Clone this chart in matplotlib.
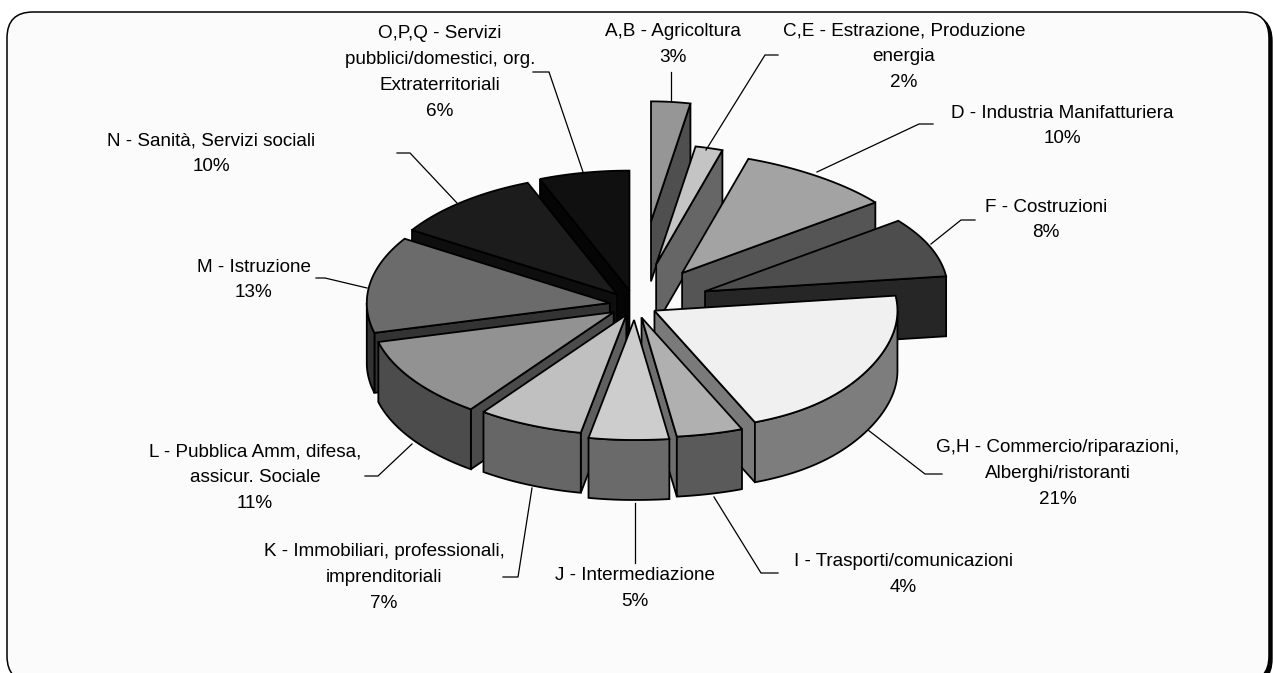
import numpy as np
import matplotlib
matplotlib.use('Agg')
import matplotlib.pyplot as plt
from matplotlib.patches import FancyBboxPatch, Polygon

plt.rcParams['font.family'] = ['Liberation Sans', 'DejaVu Sans']

labels = ['A,B - Agricoltura', 'C,E - Estrazione, Produzione\nenergia',
          'D - Industria Manifatturiera', 'F - Costruzioni',
          'G,H - Commercio/riparazioni,\nAlberghi/ristoranti',
          'I - Trasporti/comunicazioni', 'J - Intermediazione',
          'K - Immobiliari, professionali,\nimprenditoriali',
          'L - Pubblica Amm, difesa,\nassicur. Sociale', 'M - Istruzione',
          'N - Sanità, Servizi sociali',
          'O,P,Q - Servizi\npubblici/domestici, org.\nExtraterritoriali']
values = [3, 2, 10, 8, 21, 4, 5, 7, 11, 13, 10, 6]

# how far each slice is pulled out of the pie
explode = [0.70, 0.35, 0.33, 0.31, 0.093, 0.108, 0.125, 0.09, 0.106, 0.105, 0.115, 0.122]
top_col = ['#969696', '#c4c4c4', '#a3a3a3', '#4d4d4d', '#f0f0f0', '#b0b0b0',
           '#cdcdcd', '#c0c0c0', '#929292', '#6b6b6b', '#1c1c1c', '#101010']
wall_col = ['#4f4f4f', '#666666', '#555555', '#262626', '#7d7d7d', '#5a5a5a',
            '#6a6a6a', '#666666', '#4c4c4c', '#333333', '#0e0e0e', '#050505']
cut_col = ['#4f4f4f', '#666666', '#555555', '#262626', '#7a7a7a', '#6e6e6e',
           '#6a6a6a', '#5f5f5f', '#4b4b4b', '#333333', '#0e0e0e', '#050505']
draw_order = [0, 1, 2, 3, 11, 10, 9, 8, 7, 4, 5, 6]

# label centre and first line height, then the leader line
label_pos = [(673, 32), (904, 31), (1062, 113), (1046, 207), (1058, 448), (903, 562),
             (635, 576), (384, 552), (255, 452), (254, 267), (211, 141), (440, 34)]
leaders = [[(671, 100), (671, 72)],
           [(706, 150), (765, 55), (778, 55)],
           [(817, 172), (919, 124), (933, 124)],
           [(931, 244), (961, 220), (975, 220)],
           [(868, 430), (925, 474), (942, 474)],
           [(714, 497), (761, 573), (778, 573)],
           [(635, 503), (635, 563)],
           [(532, 488), (518, 577), (503, 577)],
           [(412, 444), (378, 476), (365, 476)],
           [(367, 288), (325, 278), (316, 278)],
           [(457, 203), (410, 153), (397, 153)],
           [(583, 172), (549, 72), (533, 72)]]

cx, cy = 635, 305
rx, ry = 243, 120
depth = 60


def point(theta):
    # position on the tilted rim: far right narrows, near right opens up
    c = np.cos(theta)
    right = np.sin(theta) > 0
    wide = rx + (40 * (c < 0) - 35 * (c > 0)) * (c ** 4) * right
    return wide * np.sin(theta), -ry * c


fig = plt.figure(figsize=(12.73, 6.73), dpi=100)
ax = fig.add_axes([0, 0, 1, 1])
ax.set_xlim(0, 1273)
ax.set_ylim(673, 0)
ax.axis('off')

style = 'round,pad=0,rounding_size=26'
ax.add_patch(FancyBboxPatch((10, 15), 1262, 670, boxstyle=style, fc='black', ec='black', lw=1))
ax.add_patch(FancyBboxPatch((7, 12), 1262, 670, boxstyle=style, fc='#fbfbfb', ec='black', lw=1.1))

for pts in leaders:
    xs, ys = zip(*pts)
    ax.plot(xs, ys, color='black', lw=0.9, solid_joinstyle='miter')

edges = np.radians(np.cumsum([0] + values) * 3.6)
for i in draw_order:
    a0, a1 = edges[i], edges[i + 1]
    mid = (a0 + a1) / 2
    tx = cx + explode[i] * rx * np.sin(mid)
    ty = cy - explode[i] * ry * np.cos(mid)
    t = np.linspace(a0, a1, 80)
    px, py = point(t)
    px, py = tx + px, ty + py
    kw = dict(ec='black', lw=1.3, joinstyle='miter')

    # radial cut faces that turn toward the viewer
    if a1 < np.pi:
        ax.add_patch(Polygon([(tx, ty), (px[-1], py[-1]), (px[-1], py[-1] + depth), (tx, ty + depth)],
                             fc=cut_col[i], **kw))
    if a0 > np.pi:
        ax.add_patch(Polygon([(tx, ty), (px[0], py[0]), (px[0], py[0] + depth), (tx, ty + depth)],
                             fc=cut_col[i], **kw))

    # outer wall, only the front half of the rim shows
    lo, hi = max(a0, np.pi / 2), min(a1, 3 * np.pi / 2)
    if lo < hi:
        w = np.linspace(lo, hi, 80)
        wx, wy = point(w)
        wx, wy = tx + wx, ty + wy
        wall = np.r_[np.c_[wx, wy], np.c_[wx, wy + depth][::-1]]
        ax.add_patch(Polygon(wall, fc=wall_col[i], **kw))

    ax.add_patch(Polygon(np.r_[[(tx, ty)], np.c_[px, py]], fc=top_col[i], **kw))

for name, v, (x, y) in zip(labels, values, label_pos):
    lines = name.split('\n') + ['%d%%' % v]
    for k, line in enumerate(lines):
        ax.text(x, y + k * 25.7, line, ha='center', va='center', fontsize=13.6, color='black')

fig.savefig('out.png', dpi=100, facecolor='white')
